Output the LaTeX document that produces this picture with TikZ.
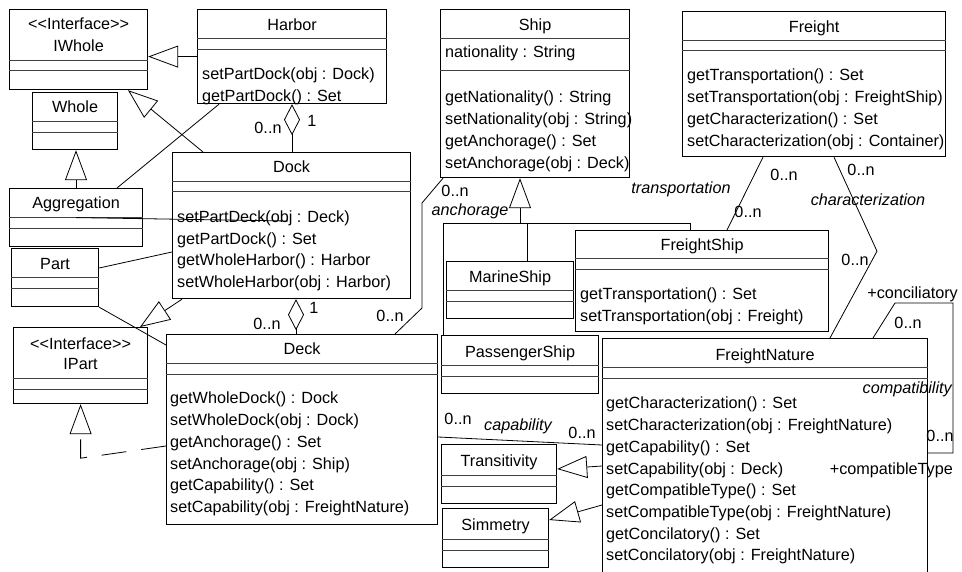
\documentclass[tikz,border=0pt]{standalone}
\usepackage{fontspec}
\setmainfont{Liberation Sans}
\usetikzlibrary{calc,arrows.meta}

\tikzstyle{umlbox}=[rectangle, draw=black, line width=1.2pt, inner sep=0pt]
\tikzstyle{divider}=[draw=black!75, line width=1pt]
\tikzstyle{classname}=[anchor=base, inner sep=0pt]
\tikzstyle{ops}=[anchor=north west, align=left, inner sep=0pt]
\tikzstyle{mult}=[anchor=base, inner sep=0pt]
\tikzstyle{role}=[anchor=base, inner sep=0pt, font=\fontsize{16.2}{21.7}\selectfont\itshape]
\tikzstyle{assoc}=[line width=0.8pt]
\tikzstyle{genline}=[line width=0.8pt, -{Triangle[open, length=30pt, width=22pt]}]
\tikzstyle{realline}=[line width=0.8pt, dash pattern=on 25pt off 15pt, -{Triangle[open, length=30pt, width=22pt]}]
\tikzstyle{aggline}=[line width=0.8pt, -{Diamond[open, length=31pt, width=16pt]}]

\newcommand{\umlclass}[7]{%
  \node[umlbox, minimum width=#4pt, minimum height=#5pt, anchor=north west] (#1) at (#2,#3) {};
  \draw[divider] ($(#1.north west)+(0,#6)$) -- ($(#1.north east)+(0,#6)$);
  \draw[divider] ($(#1.north west)+(0,#7)$) -- ($(#1.north east)+(0,#7)$);
}

\begin{document}
\begin{tikzpicture}[x=1pt, y=-1pt, every node/.style={font=\fontsize{16.2}{21.7}\selectfont}]
    \useasboundingbox (0,0) rectangle (962,572);
    \clip (0,0) rectangle (962,572);

    \umlclass{iwhole}{9}{9}{138}{80}{52}{62}
    \node[classname] (iwhole-st) at ($(iwhole.north)+(0,21)$) {<{}<Interface>{}>};
    \node[classname] (iwhole-n) at ($(iwhole.north)+(0,43)$) {IWhole};

    \umlclass{whole}{32}{92}{85}{57}{30}{41}
    \node[classname] (whole-n) at ($(whole.north)+(0,21)$) {Whole};

    \umlclass{aggregation}{9}{188}{133}{58}{30}{41}
    \node[classname] (aggregation-n) at ($(aggregation.north)+(0,21)$) {Aggregation};

    \umlclass{part}{11}{248}{87}{58}{30}{41}
    \node[classname] (part-n) at ($(part.north)+(0,22)$) {Part};

    \umlclass{ipart}{13}{327}{134}{76}{51}{62}
    \node[classname] (ipart-st) at ($(ipart.north)+(0,22)$) {<{}<Interface>{}>};
    \node[classname] (ipart-n) at ($(ipart.north)+(0,42)$) {IPart};

    \umlclass{harbor}{197}{9}{189}{94}{30}{41}
    \node[classname] (harbor-n) at ($(harbor.north)+(0,22)$) {Harbor};
    \node[ops] (harbor-ops) at ($(harbor.north west)+(5,59)$) {setPartDock(obj : Dock)\\getPartDock() : Set};

    \umlclass{dock}{172}{152}{238}{146}{30}{40}
    \node[classname] (dock-n) at ($(dock.north)+(0,21)$) {Dock};
    \node[ops] (dock-ops) at ($(dock.north west)+(5,58.5)$) {setPartDeck(obj : Deck)\\getPartDock() : Set\\getWholeHarbor() : Harbor\\setWholeHarbor(obj : Harbor)};

    \umlclass{deck}{166}{334}{271}{190}{29}{40}
    \node[classname] (deck-n) at ($(deck.north)+(0,21)$) {Deck};
    \node[ops] (deck-ops) at ($(deck.north west)+(4,58)$) {getWholeDock() : Dock\\setWholeDock(obj : Dock)\\getAnchorage() : Set\\setAnchorage(obj : Ship)\\getCapability() : Set\\setCapability(obj : FreightNature)};

    \umlclass{ship}{440}{9}{189}{168}{30}{62}
    \node[classname] (ship-n) at ($(ship.north)+(0,22)$) {Ship};
    \node[ops] (ship-attr) at ($(ship.north west)+(5,37)$) {nationality : String};
    \node[ops] (ship-ops) at ($(ship.north west)+(5,82)$) {getNationality() : String\\setNationality(obj : String)\\getAnchorage() : Set\\setAnchorage(obj : Deck)};

    \umlclass{freight}{682}{11}{263}{145}{30}{40}
    \node[classname] (freight-n) at ($(freight.north)+(0,22)$) {Freight};
    \node[ops] (freight-ops) at ($(freight.north west)+(5,58)$) {getTransportation() : Set\\setTransportation(obj : FreightShip)\\getCharacterization() : Set\\setCharacterization(obj : Container)};

    \umlclass{freightship}{575}{230}{253}{101}{29}{40}
    \node[classname] (freightship-n) at ($(freightship.north)+(0,21)$) {FreightShip};
    \node[ops] (freightship-ops) at ($(freightship.north west)+(5,58)$) {getTransportation() : Set\\setTransportation(obj : Freight)};

    \umlclass{marineship}{446}{261}{127}{57}{30}{41}
    \node[classname] (marineship-n) at ($(marineship.north)+(0,22)$) {MarineShip};

    \umlclass{passengership}{441}{335}{157}{58}{30}{41}
    \node[classname] (passengership-n) at ($(passengership.north)+(0,22)$) {PassengerShip};

    \umlclass{freightnature}{602}{338}{325}{250}{29}{40}
    \node[classname] (freightnature-n) at ($(freightnature.north)+(0,22)$) {FreightNature};
    \node[ops] (freightnature-ops) at ($(freightnature.north west)+(4,59)$) {getCharacterization() : Set\\setCharacterization(obj : FreightNature)\\getCapability() : Set\\setCapability(obj : Deck)\\getCompatibleType() : Set\\setCompatibleType(obj : FreightNature)\\getConcilatory() : Set\\setConcilatory(obj : FreightNature)};

    \umlclass{transitivity}{441}{444}{115}{59}{31}{42}
    \node[classname] (transitivity-n) at ($(transitivity.north)+(0,22)$) {Transitivity};

    \umlclass{simmetry}{442}{508}{106}{59}{31}{42}
    \node[classname] (simmetry-n) at ($(simmetry.north)+(0,22)$) {Simmetry};

    \draw[genline] (harbor.west) -- (harbor.west -| iwhole.east);
    \draw[genline] ($(dock.north west)+(31,0)$) -- ($(iwhole.south west)+(119,0)$);
    \draw[assoc] ($(harbor.south west)+(22,0)$) -- ($(aggregation.north west)+(108,0)$);
    \draw[genline] ($(aggregation.north west)+(67,0)$) -- ($(whole.south west)+(44,0)$);
    \draw[assoc] (aggregation.center) -- ($(dock.north west)+(116,69)$);
    \draw[assoc] ($(part.north east)+(0,20)$) -- ($(dock.north west)+(0,100)$);
    \draw[genline] ($(dock.south west)+(10,0)$) -- ($(ipart.north west)+(127,0)$);
    \draw[assoc] (part.south east) -- ($(deck.north west)+(0,11)$);
    \draw[realline] ($(deck.north west)+(0,112)$) -- ($(ipart.south)+(0,54)$) -- (ipart.south);

    \draw[aggline] ($(dock.north west)+(120,0)$) -- ($(harbor.south west)+(95,0)$);
    \node[mult] (harbor-one) at (312,127) {1};
    \node[mult] (dock-many) at (268,134) {0..n};

    \draw[aggline] ($(deck.north west)+(130,0)$) -- ($(dock.south west)+(124,0)$);
    \node[mult] (dock-one) at (314,314) {1};
    \node[mult] (deck-many) at (267,330) {0..n};

    \draw[assoc] ($(deck.north west)+(229,0)$) -- ++(27,-26) -- ++(0,-105) -- ($(ship.south west)+(3,0)$);
    \node[mult] (anch-deck) at (390,322) {0..n};
    \node[mult] (anch-ship) at (455,197) {0..n};
    \node[role] (anchorage) at (470,216) {anchorage};

    \draw[genline] ($(ship.south west)+(80,46)$) -- ($(ship.south west)+(80,0)$);
    \draw[assoc] ($(passengership.north west)+(2,0)$) |- ($(freightship.north west)+(115,-7)$) -- ($(freightship.north west)+(115,0)$);
    \draw[assoc] ($(marineship.north west)+(81,0)$) -- ($(marineship.north west)+(81,-38)$);

    \draw[assoc] ($(freight.south west)+(81,0)$) -- ($(freightship.north west)+(152,0)$);
    \node[mult] (transp-freight) at (784,181) {0..n};
    \node[role] (transportation) at (681,194) {transportation};
    \node[mult] (transp-ship) at (748,218) {0..n};

    \draw[assoc] ($(freight.south west)+(152,0)$) -- ($(freight.south west)+(195,94)$) -- ($(freightnature.north west)+(228,0)$);
    \node[mult] (char-freight) at (861,176) {0..n};
    \node[role] (characterization) at (868,206) {characterization};
    \node[mult] (char-nature) at (855,266) {0..n};
    \node[mult, anchor=base east] (conciliatory) at (958,299) {+conciliatory};

    \draw[assoc] ($(freightnature.north west)+(271,0)$) -- ++(22,-35) -- ++(58,0) -- ++(0,150) -- ($(freightnature.north east)+(0,115)$);
    \node[mult] (compat-top) at (908,329) {0..n};
    \node[role, anchor=base east] (compatibility) at (952,393) {compatibility};
    \node[mult] (compat-right) at (940,441) {0..n};
    \node[mult, anchor=base east] (compatibletype) at (953,474) {+compatibleType};

    \draw[assoc] ($(deck.north east)+(0,103)$) -- ($(freightnature.north west)+(0,107)$);
    \node[mult] (cap-deck) at (458,424) {0..n};
    \node[role] (capability) at (518,430) {capability};
    \node[mult] (cap-nature) at (582,438) {0..n};

    \draw[genline] ($(freightnature.north west)+(0,128)$) -- ($(transitivity.north east)+(0,25)$);
    \draw[genline] ($(freightnature.north west)+(0,167)$) -- ($(simmetry.north east)+(0,12)$);
\end{tikzpicture}
\end{document}
